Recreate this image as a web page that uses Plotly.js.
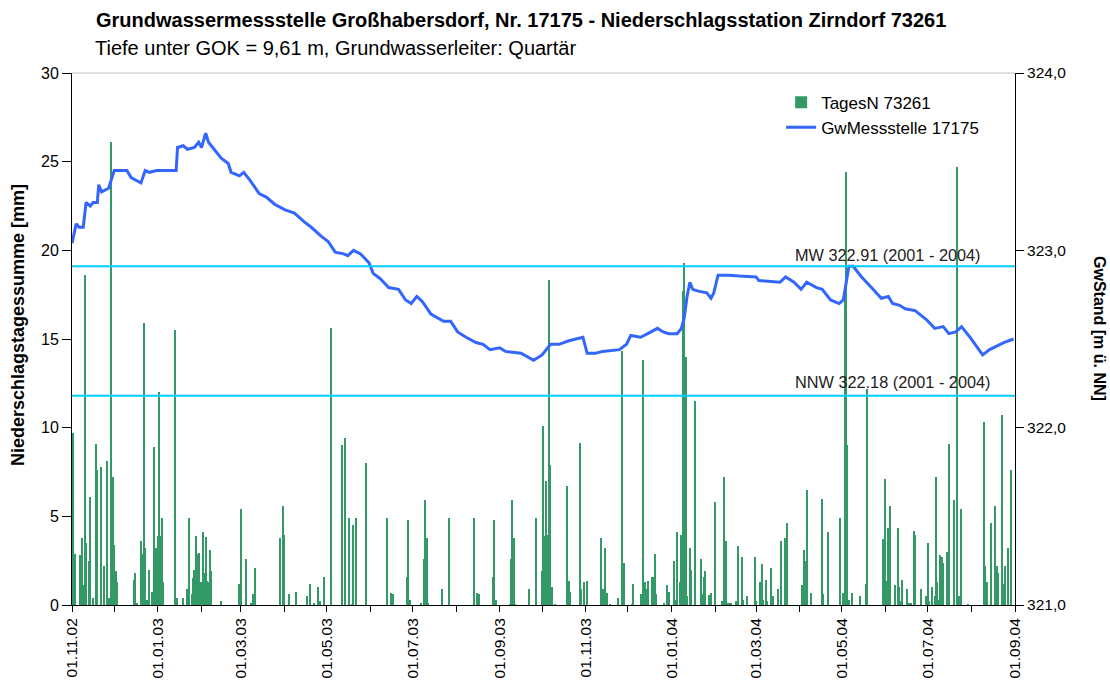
<!DOCTYPE html>
<html>
<head>
<meta charset="utf-8">
<script src="https://cdn.plot.ly/plotly-3.0.1.min.js"></script>
<style>html,body{margin:0;padding:0;background:#fff;}#chart{width:1110px;height:684px;}</style>
</head>
<body>
<div id="chart"></div>
<script>
// ---- Data ----
const rainStart = '2002-11-01';
// day offset since 01.11.02 and daily precipitation [mm]
const rainDay = [0,1,2,6,7,8,9,10,12,13,15,17,18,21,23,25,26,27,28,29,30,31,32,
44,45,46,49,50,51,52,53,55,57,58,59,60,61,62,63,64,65,73,75,79,
82,83,85,86,87,88,89,90,91,92,93,94,95,96,97,98,99,106,
119,120,124,127,129,130,148,150,151,154,159,167,169,172,175,176,179,184,
192,194,197,199,200,202,209,224,227,228,238,239,240,248,250,251,252,253,263,268,
286,288,289,299,300,301,311,312,313,314,315,325,330,334,335,336,337,338,339,340,341,343,
352,353,354,361,362,364,366,376,377,379,380,382,388,391,392,
398,399,404,406,407,408,409,412,413,414,415,421,423,424,428,429,430,432,433,434,435,436,437,439,440,443,
447,448,449,450,453,454,457,462,463,464,465,466,467,468,472,473,476,477,480,
485,486,489,490,491,493,494,497,498,502,504,507,508,519,520,521,522,525,533,534,537,
546,548,549,550,551,552,554,560,564,565,576,578,579,580,581,585,587,588,589,590,593,594,595,596,
598,599,603,607,608,609,611,613,614,615,616,617,618,619,622,623,627,629,630,632,637,
648,649,650,653,656,657,658,661,662,663,665,667];
const rainMm = [3.95,9.7,2.9,2.8,3.8,1.1,18.6,3.5,2.5,6.1,0.4,9.1,7.6,7.8,2.2,8.1,0.4,0.4,26.1,7.2,3.4,1.9,1.3,
1.4,1.8,0.1,3.6,2.9,15.9,3.2,0.3,2.0,0.75,8.9,0.4,3.2,3.9,12.0,3.9,4.9,1.3,15.5,0.4,0.4,
0.9,4.9,0.6,1.5,2.0,3.9,2.9,2.95,0.6,1.3,4.1,1.8,3.85,1.35,1.3,3.1,1.9,0.2,
1.2,5.4,2.6,0.1,0.6,2.1,3.8,5.6,3.95,0.6,0.75,0.5,1.2,0.1,1.0,0.2,1.6,15.6,
9.0,9.4,4.9,0.05,4.5,4.9,8.0,4.9,0.65,0.6,1.6,4.8,0.3,0.1,2.6,5.9,3.8,0.1,0.9,4.9,
4.9,0.65,0.6,1.6,4.8,0.3,0.05,2.6,5.9,3.8,0.05,0.9,4.9,1.9,10.1,3.9,7.0,3.95,18.3,7.9,1.0,0.05,
6.7,1.35,0.75,9.15,0.9,1.3,1.35,3.8,0.9,3.2,0.65,0.05,0.4,14.3,2.35,
0.05,1.2,0.6,13.8,1.3,0.9,1.35,1.6,1.6,2.9,0.6,0.1,1.1,0.75,2.5,0.3,4.1,1.3,3.95,17.7,19.3,14.0,0.5,3.2,2.0,11.5,
2.6,0.6,1.6,1.9,0.55,0.65,5.8,0.2,7.2,2.0,3.6,0.1,0.1,0.1,0.2,3.3,2.7,0.3,0.5,
2.7,0.2,1.3,2.3,0.3,1.4,0.2,2.1,0.5,0.9,3.6,3.8,4.6,1.1,3.1,2.5,6.5,0.65,6.0,0.6,4.1,
4.9,0.65,17.5,24.4,9.0,0.3,0.7,0.5,1.2,12.2,3.7,7.1,1.35,4.35,5.6,1.1,4.35,1.0,0.2,1.4,0.9,0.1,0.1,0.1,
4.2,3.95,0.9,0.5,3.5,0.2,1.0,0.5,7.2,1.3,0.3,2.8,2.7,2.35,3.0,9.1,5.9,24.7,0.5,5.4,0.05,
10.3,2.2,1.3,4.6,5.6,2.2,1.8,10.7,1.2,2.2,3.2,7.6];

const gwDate = ['2002-11-01','2002-11-04','2002-11-06','2002-11-09','2002-11-11','2002-11-14','2002-11-16','2002-11-19','2002-11-20','2002-11-22','2002-11-27','2002-11-29',
'2002-12-01','2002-12-10','2002-12-13','2002-12-20','2002-12-23','2002-12-26','2002-12-31',
'2003-01-14','2003-01-15','2003-01-19','2003-01-22','2003-01-27','2003-01-30','2003-02-01','2003-02-04','2003-02-06','2003-02-09','2003-02-15','2003-02-20','2003-02-22','2003-02-28',
'2003-03-03','2003-03-07','2003-03-14','2003-03-19','2003-03-25','2003-04-01','2003-04-08','2003-04-15','2003-04-20','2003-04-27',
'2003-05-02','2003-05-07','2003-05-13','2003-05-16','2003-05-20','2003-05-25','2003-05-31','2003-06-03','2003-06-08','2003-06-14','2003-06-21','2003-06-26','2003-06-30',
'2003-07-04','2003-07-08','2003-07-14','2003-07-19','2003-07-23','2003-07-28','2003-08-02','2003-08-08','2003-08-15','2003-08-20','2003-08-25',
'2003-09-01','2003-09-05','2003-09-16','2003-09-21','2003-09-25','2003-10-01','2003-10-07','2003-10-13','2003-10-20','2003-10-30',
'2003-11-02','2003-11-08','2003-11-13','2003-11-25','2003-11-30','2003-12-03','2003-12-10','2003-12-15','2003-12-22','2003-12-26','2003-12-30',
'2004-01-05','2004-01-08','2004-01-10','2004-01-12','2004-01-14','2004-01-16','2004-01-20','2004-01-26','2004-01-29','2004-01-31',
'2004-02-03','2004-02-11','2004-02-18','2004-03-01','2004-03-03','2004-03-18','2004-03-22','2004-03-28',
'2004-04-02','2004-04-06','2004-04-13','2004-04-17','2004-04-23','2004-04-29','2004-05-02','2004-05-04','2004-05-06','2004-05-09','2004-05-15','2004-05-22','2004-05-29',
'2004-06-03','2004-06-06','2004-06-11','2004-06-15','2004-06-22','2004-06-30','2004-07-06','2004-07-12','2004-07-16','2004-07-21','2004-07-25','2004-07-31',
'2004-08-09','2004-08-14','2004-08-19','2004-08-24','2004-08-31'];
const gwLevel = [323.04,323.15,323.13,323.13,323.27,323.25,323.27,323.27,323.37,323.33,323.35,323.40,
323.45,323.45,323.41,323.38,323.45,323.44,323.45,
323.45,323.58,323.59,323.57,323.58,323.61,323.58,323.66,323.61,323.58,323.52,323.49,323.44,323.42,
323.44,323.40,323.32,323.30,323.26,323.23,323.21,323.16,323.13,323.08,
323.05,322.99,322.98,322.97,323.00,322.98,322.93,322.87,322.84,322.79,322.78,322.72,322.70,
322.74,322.71,322.64,322.62,322.60,322.60,322.54,322.51,322.48,322.47,322.44,
322.45,322.43,322.42,322.40,322.38,322.41,322.47,322.47,322.49,322.51,
322.42,322.42,322.43,322.44,322.47,322.52,322.51,322.53,322.56,322.54,322.53,
322.53,322.56,322.62,322.74,322.82,322.78,322.77,322.76,322.73,322.76,
322.86,322.86,322.855,322.85,322.83,322.82,322.85,322.82,
322.78,322.82,322.79,322.78,322.72,322.70,322.72,322.82,322.91,322.91,322.85,322.79,322.73,
322.74,322.70,322.69,322.67,322.66,322.61,322.56,322.57,322.53,322.54,322.57,322.51,
322.41,322.44,322.46,322.48,322.50];

const mwLevel = 322.91;
const nnwLevel = 322.18;
const mwLabel = 'MW 322.91 (2001 - 2004)';
const nnwLabel = 'NNW 322.18 (2001 - 2004)';
const rainName = 'TagesN 73261';
const gwName = 'GwMessstelle 17175';
const titleText = 'Grundwassermessstelle Großhabersdorf, Nr. 17175 - Niederschlagsstation Zirndorf 73261';
const subTitleText = 'Tiefe unter GOK = 9,61 m, Grundwasserleiter: Quartär';
const yTitle = 'Niederschlagstagessumme [mm]';
const y2Title = 'GwStand [m ü. NN]';

// ---- Build ----
const DAY = 86400000;
const t0 = Date.parse(rainStart + 'T00:00:00Z');
const rainDate = rainDay.map(d => new Date(t0 + d * DAY).toISOString().slice(0, 10));

const FONT = 'Liberation Sans, Arial, sans-serif';
const green = 'rgb(51,153,102)';
const blue = 'rgb(51,102,255)';
const cyan = 'rgb(0,204,255)';

const traces = [
  {type: 'bar', name: rainName, x: rainDate, y: rainMm, yaxis: 'y',
   width: DAY * 0.85, marker: {color: green, line: {width: 0}}, hoverinfo: 'x+y'},
  {type: 'scatter', mode: 'lines', name: gwName, x: gwDate, y: gwLevel, yaxis: 'y2',
   line: {color: blue, width: 3}}
];

const layout = {
  width: 1110, height: 684,
  margin: {l: 72, r: 95, t: 73, b: 79},
  paper_bgcolor: '#fff', plot_bgcolor: '#fff',
  separators: ',.',
  font: {family: FONT, size: 16, color: '#000'},
  showlegend: true,
  bargap: 0,
  title: {text: '<b>' + titleText + '</b>', x: 96 / 1110, xanchor: 'left', xref: 'container',
          y: 1 - 20 / 684, yanchor: 'middle', yref: 'container',
          font: {family: FONT, size: 20, color: '#000'}},
  legend: {x: 0.752, y: 0.978, xanchor: 'left', yanchor: 'top', bgcolor: 'rgba(0,0,0,0)',
           font: {family: FONT, size: 17, color: '#000'}, tracegroupgap: 0, itemwidth: 30},
  xaxis: {
    type: 'date', range: ['2002-11-01', '2004-09-01'],
    tick0: '2002-11-01', dtick: 'M2', tickformat: '%d.%m.%y', tickangle: -90,
    ticks: 'outside', ticklen: 6, tickcolor: '#000', tickwidth: 1,
    showline: true, linecolor: '#000', linewidth: 1, showgrid: false, zeroline: false,
    tickfont: {family: FONT, size: 15.5, color: '#000'},
    minor: {dtick: 'M1', tick0: '2002-11-01', ticks: 'outside', ticklen: 6, tickcolor: '#000', showgrid: false}
  },
  yaxis: {
    range: [0, 30], dtick: 5, ticks: 'outside', ticklen: 9, tickcolor: '#000',
    showline: true, linecolor: '#000', linewidth: 1, showgrid: false, zeroline: false,
    tickfont: {family: FONT, size: 16, color: '#000'}
  },
  yaxis2: {
    range: [321, 324], dtick: 1, tickformat: '.1f', overlaying: 'y', side: 'right',
    ticks: 'outside', ticklen: 8, tickcolor: '#000',
    showline: true, linecolor: '#000', linewidth: 1, showgrid: false, zeroline: false,
    tickfont: {family: FONT, size: 15.5, color: '#000'}
  },
  shapes: [
    {type: 'line', xref: 'paper', x0: 0, x1: 1, yref: 'paper', y0: 1, y1: 1,
     line: {color: '#c0c0c0', width: 1}},
    {type: 'line', xref: 'paper', x0: 0, x1: 1, yref: 'y2', y0: mwLevel, y1: mwLevel,
     line: {color: cyan, width: 2}},
    {type: 'line', xref: 'paper', x0: 0, x1: 1, yref: 'y2', y0: nnwLevel, y1: nnwLevel,
     line: {color: cyan, width: 2}}
  ],
  annotations: [
    {text: subTitleText, xref: 'paper', yref: 'paper', x: (93 - 72) / 943, y: (605 - 48) / 532,
     xanchor: 'left', yanchor: 'middle', showarrow: false, font: {family: FONT, size: 20, color: '#000'}},
    {text: mwLabel, xref: 'paper', yref: 'y2', x: (793 - 72) / 943, y: mwLevel,
     xanchor: 'left', yanchor: 'bottom', yshift: 0, showarrow: false, font: {family: FONT, size: 16.3, color: '#222'}},
    {text: nnwLabel, xref: 'paper', yref: 'y2', x: (793 - 72) / 943, y: nnwLevel,
     xanchor: 'left', yanchor: 'bottom', yshift: 3, showarrow: false, font: {family: FONT, size: 16.3, color: '#222'}},
    {text: '<b>' + yTitle + '</b>', xref: 'paper', yref: 'paper', x: (18 - 72) / 943, y: (605 - 325) / 532,
     xanchor: 'center', yanchor: 'middle', textangle: -90, showarrow: false, font: {family: FONT, size: 18, color: '#000'}},
    {text: '<b>' + y2Title + '</b>', xref: 'paper', yref: 'paper', x: (1100 - 72) / 943, y: (605 - 328) / 532,
     xanchor: 'center', yanchor: 'middle', textangle: 90, showarrow: false, font: {family: FONT, size: 16, color: '#000'}}
  ]
};

Plotly.newPlot('chart', traces, layout, {displayModeBar: false, responsive: false});
</script>
</body>
</html>
